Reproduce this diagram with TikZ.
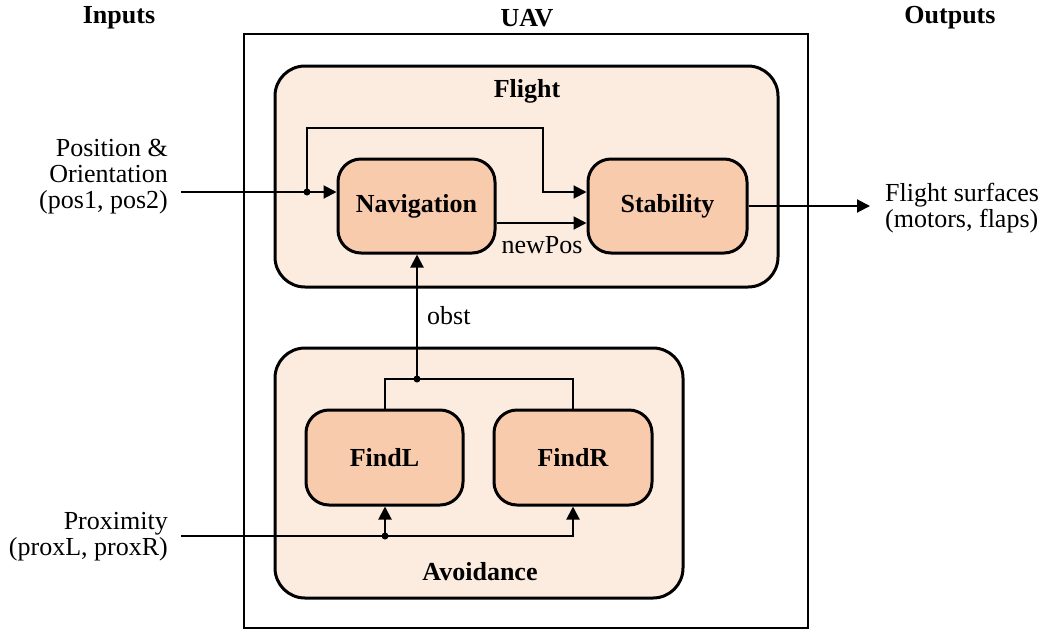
\documentclass[tikz,border=0pt]{standalone}
\usepackage{fontspec}
\setmainfont{Liberation Serif}
\usetikzlibrary{arrows.meta}

\definecolor{groupfill}{HTML}{FCEBDF}
\definecolor{blockfill}{HTML}{F8CBAD}

\tikzset{
  txt/.style={font=\fontsize{26}{26}\selectfont, inner sep=0pt},
  heading/.style={txt, font=\fontsize{26}{26}\selectfont\bfseries},
  group/.style={draw, line width=3pt, rounded corners=30pt, fill=groupfill, inner sep=0pt},
  block/.style={draw, line width=3pt, rounded corners=23pt, fill=blockfill, inner sep=0pt,
    font=\fontsize{26}{26}\selectfont\bfseries},
  wire/.style={line width=2pt},
  arr/.style={wire, -{Triangle[length=13pt,width=13pt]}},
  junction/.style={circle, fill, inner sep=0pt, minimum size=7pt}
}

\begin{document}
\begin{tikzpicture}[x=1pt, y=-1pt]
  \useasboundingbox (0,0) rectangle (1055,630);

  % column headings
  \node[heading] (hin)  at (119,18) {Inputs};
  \node[heading] (huav) at (527,18) {UAV};
  \node[heading] (hout) at (950,18) {Outputs};

  % system boundary
  \node[draw, line width=2pt, minimum width=564pt, minimum height=594pt, inner sep=0pt]
    (uav) at (526,331) {};

  % subsystem groups
  \node[group, minimum width=503pt, minimum height=221pt] (flight) at (526.5,176.5) {};
  \node[heading] (flightlbl) at (527,91) {Flight};
  \node[group, minimum width=408pt, minimum height=250pt] (avoid) at (479,473) {};
  \node[heading] (avoidlbl) at (480,572) {Avoidance};

  % blocks
  \node[block, minimum width=157pt, minimum height=94pt] (nav)   at (416.5,206) {Navigation};
  \node[block, minimum width=159pt, minimum height=94pt] (stab)  at (667.5,206) {Stability};
  \node[block, minimum width=157pt, minimum height=95pt] (findL) at (384.5,457.5) {FindL};
  \node[block, minimum width=158pt, minimum height=95pt] (findR) at (573,457.5) {FindR};

  % external signals
  \node[txt, align=right, anchor=east] (posin) at (168,177) {Position \&\\Orientation\\(pos1, pos2)};
  \node[txt, align=right, anchor=east] (proxin) at (168,537) {Proximity\\(proxL, proxR)};
  \node[txt, align=left, anchor=west] (surf) at (885,208) {Flight surfaces\\(motors, flaps)};

  \coordinate (posstart) at (181,192);
  \coordinate (proxstart) at (181,536);
  \coordinate (fb) at (307,192);
  \coordinate (fbtop) at (307,128);
  \coordinate (fbturn) at (543,128);
  \coordinate (fbdown) at (543,192);
  \coordinate (obd) at (417,379);
  \coordinate (pd) at (385,536);
  \coordinate (outend) at (870,206);

  % position & orientation feed
  \draw[arr] (posstart) -- (nav.west |- posstart);
  \draw[arr] (fb) -- (fbtop) -- (fbturn) -- (fbdown) -- (stab.west |- fbdown);
  \node[junction] (fbdot) at (fb) {};

  % navigation to stability
  \draw[arr] ([yshift=-17pt]nav.east) -- ([yshift=-17pt]stab.west);
  \node[txt] (newpos) at (542,245) {newPos};

  % stability to outputs
  \draw[arr] (stab.east) -- (outend);

  % avoidance to navigation
  \draw[wire] (findL.north) |- (obd) -| (findR.north);
  \draw[arr] (obd) -- (nav.south -| obd);
  \node[junction] (obddot) at (obd) {};
  \node[txt, anchor=west] (obst) at (427,316) {obst};

  % proximity feed
  \draw[arr] (proxstart) -| (findR.south);
  \draw[arr] (pd) -- (findL.south -| pd);
  \node[junction] (pddot) at (pd) {};
\end{tikzpicture}
\end{document}
